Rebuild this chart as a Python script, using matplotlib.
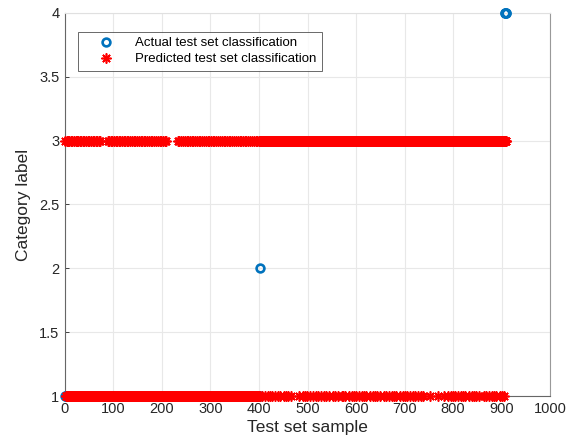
import numpy as np
import matplotlib
matplotlib.use("Agg")
import matplotlib.pyplot as plt

plt.rcParams['font.family'] = ['Liberation Sans', 'DejaVu Sans']

# Actual class of each test sample, as (label, run length) in sample order
actual_runs = [(1, 401), (2, 1), (3, 503), (4, 4)]

# Predicted class: the bulk labels per block, then the samples that went the other way
predicted_runs = [(1, 402), (3, 507)]
predicted_as_3 = [1, 4, 6, 9, 13, 15, 18, 22, 25, 27, 31, 34, 38, 40, 43, 47, 50, 53, 57, 60,
                  64, 67, 70, 73, 88, 91, 95, 98, 101, 105, 107, 111, 114, 118, 121, 124, 128,
                  131, 135, 138, 142, 145, 148, 152, 156, 159, 163, 166, 170, 173, 177, 180, 184,
                  187, 191, 195, 198, 202, 206, 209, 233, 236, 240, 243, 247, 251, 254, 258, 261,
                  265, 269, 272, 276, 279, 283, 287, 290, 294, 297, 301, 305, 308, 312, 316, 319,
                  323, 327, 330, 334, 338, 341, 345, 349, 352, 356, 360, 363, 367, 371, 374, 378,
                  382, 385, 389, 393, 396, 400]
predicted_as_1 = [406, 412, 418, 423, 427, 433, 440, 444, 451, 455, 460, 466,
                  483, 490, 494, 499, 506, 512, 517, 521, 528, 534, 538, 544,
                  553, 557, 563, 570, 574, 578, 585, 591, 596, 600, 606, 613, 617, 621, 628,
                  634, 639, 643, 649, 657, 661, 668, 674, 679, 683, 690, 696, 700, 705, 712,
                  717, 721, 727, 734, 737, 752, 768, 781, 789, 795, 800, 804, 810, 817, 821,
                  825, 832, 838, 842, 847, 853, 863, 867, 874, 880, 885, 889, 896, 901, 905]


def expand(runs):
    labels, counts = zip(*runs)
    return np.repeat(labels, counts).astype(float)


actual = expand(actual_runs)
predicted = expand(predicted_runs)
predicted[np.array(predicted_as_3) - 1] = 3
predicted[np.array(predicted_as_1) - 1] = 1
samples = np.arange(1, len(actual) + 1)

blue = (0.0, 0.447, 0.741)
axis_gray = (0.15, 0.15, 0.15)

fig = plt.figure(figsize=(5.69, 4.45), dpi=100)
ax = fig.add_axes([0.114, 0.110, 0.853, 0.861])

ax.plot(samples, actual, linestyle='none', marker='o', markersize=5.6,
        markerfacecolor='none', markeredgecolor=blue, markeredgewidth=1.9,
        clip_on=False, zorder=3, label='Actual test set classification')
ax.plot(samples, predicted, linestyle='none', marker=(8, 2, 0), markersize=7.2,
        markeredgecolor='red', markerfacecolor='red', markeredgewidth=1.2,
        clip_on=False, zorder=4, label='Predicted test set classification')

ax.set_xlim(0, 1000)
ax.set_ylim(1, 4)
ax.set_xticks(np.arange(0, 1001, 100))
ax.set_yticks(np.arange(1, 4.01, 0.5))
ax.set_yticklabels(['1', '1.5', '2', '2.5', '3', '3.5', '4'])

ax.grid(True, color=(0.91, 0.91, 0.91), linewidth=0.8)
ax.set_axisbelow(True)
ax.tick_params(direction='in', length=3, width=0.6, colors=axis_gray,
               labelsize=10.5, labelcolor=axis_gray, pad=4)
for side in ['left', 'bottom']:
    ax.spines[side].set_color((0.4, 0.4, 0.4))
    ax.spines[side].set_linewidth(0.8)
ax.spines['right'].set_color((0.6, 0.6, 0.6))
ax.spines['right'].set_linewidth(0.8)
ax.spines['top'].set_color((0.88, 0.88, 0.88))
ax.spines['top'].set_linewidth(0.8)

ax.set_xlabel('Test set sample', fontsize=12.5, color=axis_gray, labelpad=3)
ax.set_ylabel('Category label', fontsize=12.5, color=axis_gray, labelpad=6)

leg = ax.legend(loc='upper left', bbox_to_anchor=(0.014, 0.968), fontsize=9.5,
                frameon=True, fancybox=False, edgecolor=(0.15, 0.15, 0.15),
                borderpad=0.4, handletextpad=0.55, handlelength=3.35,
                labelspacing=0.3, markerscale=1.0)
leg.get_frame().set_linewidth(0.6)

fig.savefig('out.png', dpi=100)
